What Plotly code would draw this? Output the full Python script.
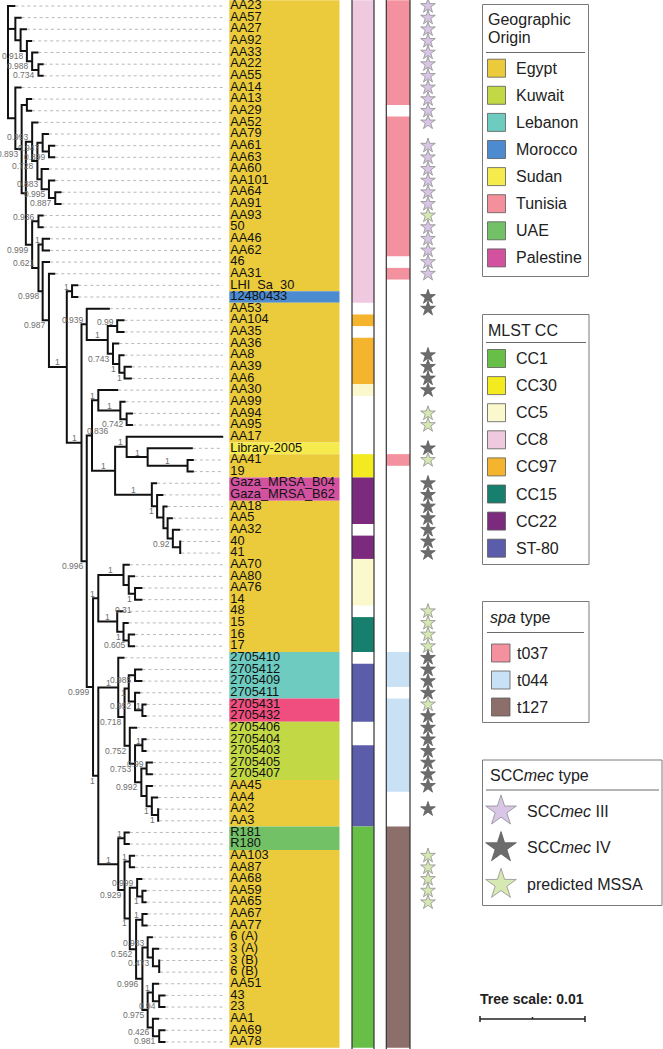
import plotly.graph_objects as go

# ---------------- data ----------------
LEAVES = ["AA23", "AA57", "AA27", "AA92", "AA33", "AA22", "AA55", "AA14", "AA13", "AA29",
          "AA52", "AA79", "AA61", "AA63", "AA60", "AA101", "AA64", "AA91", "AA93", "50",
          "AA46", "AA62", "46", "AA31", "LHI_Sa_30", "12480433", "AA53", "AA104", "AA35", "AA36",
          "AA8", "AA39", "AA6", "AA30", "AA99", "AA94", "AA95", "AA17", "Library-2005", "AA41",
          "19", "Gaza_MRSA_B04", "Gaza_MRSA_B62", "AA18", "AA5", "AA32", "40", "41", "AA70", "AA80",
          "AA76", "14", "48", "15", "16", "17", "2705410", "2705412", "2705409", "2705411",
          "2705431", "2705432", "2705406", "2705404", "2705403", "2705405", "2705407", "AA45", "AA4", "AA2",
          "AA3", "R181", "R180", "AA103", "AA87", "AA68", "AA59", "AA65", "AA67", "AA77",
          "6 (A)", "3 (A)", "3 (B)", "6 (B)", "AA51", "43", "23", "AA1", "AA69", "AA78"]

# geographic origin per leaf (E Egypt, K Kuwait, L Lebanon, M Morocco, S Sudan, T Tunisia, U UAE, P Palestine)
GEO = ("E E E E E E E E E E  E E E E E E E E E E  E E E E E M E E E E  E E E E E E E E S E "
       "E P P E E E E E E E  E E E E E E L L L L  T T K K K K K E E E  E U U E E E E E E E "
       "E E E E E E E E E E").split()
# MLST clonal complex per leaf (- = none)
MLST = ("8 8 8 8 8 8 8 8 8 8  8 8 8 8 8 8 8 8 8 8  8 8 8 8 8 8 - 97 - 97  97 97 97 5 - - - - - 30 "
        "30 22 22 22 22 - 22 22 5 5  5 5 - 15 15 15 - 80 80 80  80 80 - - 80 80 80 80 80 80 "
        "80 1 1 1 1 1 1 1 1 1  1 1 1 1 1 1 1 1 1 1").split()
# spa type per leaf (a t037, b t044, c t127, - none)
SPA = ("a a a a a a a a a -  a a a a a a a a a a  a a - a - - - - - -  - - - - - - - - - a "
       "- - - - - - - - - -  - - - - - - b b b -  b b b b b b b b - -  - c c c c c c c c c "
       "c c c c c c c c c c").split()
# SCCmec type per leaf (3 III, 4 IV, m predicted MSSA, - none)
SCC = ("3 3 3 3 3 3 3 3 3 3  3 - 3 3 3 3 3 3 m 3  3 3 3 3 - 4 4 - - -  4 4 4 4 - m m - 4 m "
       "- 4 4 4 4 4 4 4 - -  - - m m m m 4 4 4 4  m 4 4 4 4 4 4 4 - 4  - - - m m m m m - - "
       "- - - - - - - - - -").split()

GEO_KEYS = ["E", "K", "L", "M", "S", "T", "U", "P"]
GEO_NAMES = ["Egypt", "Kuwait", "Lebanon", "Morocco", "Sudan", "Tunisia", "UAE", "Palestine"]
MLST_KEYS = ["1", "30", "5", "8", "97", "15", "22", "80"]
MLST_NAMES = ["CC1", "CC30", "CC5", "CC8", "CC97", "CC15", "CC22", "ST-80"]
SPA_KEYS = ["a", "b", "c"]
SPA_NAMES = ["t037", "t044", "t127"]
SCC_KEYS = ["3", "4", "m"]
SCC_NAMES = ["SCC<i>mec</i> III", "SCC<i>mec</i> IV", "predicted MSSA"]

# tree: internal node = [depth, support, children...]; leaf = (name, depth)
# depth = distance from root in 1e-4 substitutions/site
CLADE_A = [7, None, ("AA57", 13),
           [12, None, ("AA27", 18),
            [18, "0.918", ("AA92", 23),
             [23, "0.988", ("AA33", 29),
              [29, "0.734", ("AA22", 34), ("AA55", 34)]]]]]

CC97 = [75, "0.939", ("AA53", 97),
        [95, "1",
         [104, "0.99", ("AA104", 111), ("AA35", 111)],
         [100, "0.743", ("AA36", 106),
          [106, "1", ("AA8", 111),
           [111, "1", ("AA39", 118), ("AA6", 118)]]]]]

CC5_B = [86, "1", ("AA30", 105),
         [107, "1", ("AA99", 112),
          [113, "0.742", ("AA94", 119), ("AA95", 119)]]]

CC22_GROUP = [102, "1",
              [113, "1", ("AA17", 205),
               [133, "1", ("Library-2005", 176),
                [171, "1", ("AA41", 177), ("19", 177)]]],
              [137, "1", ("Gaza_MRSA_B04", 142),
               [142, "1", ("Gaza_MRSA_B62", 148),
                [148, None, ("AA18", 152),
                 [152, None, ("AA5", 157),
                  [157, "0.92", ("AA32", 164),
                   [164, None, ("40", 165), ("41", 165)]]]]]]]

CC5_CC15 = [86, "1",
            [110, "1", ("AA70", 116),
             [115, None, ("AA80", 121),
              [121, "1", ("AA76", 128), ("14", 128)]]],
            [104, "1", ("48", 110),
             [110, "1", ("15", 115),
              [115, "0.605", ("16", 121), ("17", 121)]]]]
CC5_NOTE = "0.31"   # support shown beside the AA76/14 pair

ST80 = [105, "1", ("2705410", 111),
        [111, "0.718",
         [115, "1",
          [121, "0.985", ("2705412", 128), ("2705409", 128)],
          [121, "0.952", ("2705411", 126),
           [128, "1", ("2705431", 132), ("2705432", 132)]]],
         [116, "0.752", ("2705406", 123),
          [121, "0.753",
           [128, "1", ("2705404", 132), ("2705403", 132)],
           [127, "0.992",
            [132, "0.99", ("2705405", 138), ("2705407", 138)],
            [132, None, ("AA45", 138),
             [137, "1", ("AA4", 143),
              [143, "1", ("AA2", 144), ("AA3", 144)]]]]]]]]

CC1 = [105, "1",
       [111, "1", ("R181", 116), ("R180", 116)],
       [111, "0.929",
        [116, "1", ("AA103", 121), ("AA87", 121)],
        [116, "1",
         [123, "0.999", ("AA68", 128),
          [128, "1", ("AA59", 132), ("AA65", 132)]],
         [122, "0.562",
          [128, "1", ("AA67", 133), ("AA77", 133)],
          [128, "0.996",
           [133, "0.983", ("6 (A)", 138),
            [138, "0.473", ("3 (A)", 144),
             [144, None, ("3 (B)", 145), ("6 (B)", 145)]]],
           [133, "0.975",
            [138, "1", ("AA51", 144),
             [144, "0.94", ("43", 150), ("23", 150)]],
            [138, "0.426", ("AA1", 144),
             [144, "0.981", ("AA69", 150), ("AA78", 150)]]]]]]]]

CLADE_H = [70, "1", CC97,
           [75, "0.996",
            [80, "0.836", CC5_B, CC22_GROUP],
            [81, "0.999", CC5_CC15,
             [86, "1", ST80, CC1]]]]

LOWER = [39, "0.987", ("AA31", 45),
         [56, "1",
          [61, "1", ("LHI_Sa_30", 67), ("12480433", 67)],
          CLADE_H]]

REST = [7, None, ("AA14", 13),
        [13, "0.893",
         [18, None, ("AA13", 23), ("AA29", 23)],
         [17, None,
          [23, "0.993", ("AA52", 29),
           [28, "0.728",
            [33, "0.947", ("AA79", 39),
             [39, "0.899", ("AA61", 45), ("AA63", 45)]],
            [32, "0.883", ("AA60", 39),
             [39, "0.995", ("AA101", 45),
              [45, "0.887", ("AA64", 51), ("AA91", 51)]]]]],
          [23, "0.999",
           [29, "0.936", ("AA93", 34), ("50", 34)],
           [29, "0.621",
            [33, "1", ("AA46", 40), ("AA62", 40)],
            [33, "0.998", ("46", 40), LOWER]]]]]]

TREE = [0, None, ("AA23", 7), CLADE_A, REST]

SCALE_BAR_UNITS = 100          # 0.01 substitutions/site
SCALE_BAR_LABEL = "Tree scale: 0.01"

# ---------------- layout constants ----------------
W, H = 663, 1049
ROW_TOP_PX, ROW_STEP_PX = 6.0, 11.64
ROOT_PX, PX_PER_UNIT = 8.0, 1.05
DASH_END_PX = 223
LABEL_X0, LABEL_X1 = 229.3, 339.5
MLST_X0, MLST_X1 = 352.0, 374.0
SPA_X0, SPA_X1 = 386.3, 410.0
STAR_X = 428
FONT = "Arial, 'Liberation Sans', sans-serif"
# placement overrides for a few crowded support labels, keyed by (first leaf, last leaf) of the clade
SUP_SIDE = {("AA79", "AA63"): "below", ("AA46", "AA78"): "above",
            ("2705412", "2705409"): "below", ("2705412", "2705432"): "below",
            ("AA30", "41"): "right"}

GEO_LABEL_COL = {"E": "#EBCB3C", "K": "#C3D845", "L": "#6DCBBF", "M": "#4C8BD0",
                 "S": "#F5EB4C", "T": "#EF4E7E", "U": "#73C167", "P": "#D252A0"}
GEO_LEG_COL = dict(GEO_LABEL_COL, T="#F4909B")
MLST_COL = {"1": "#67BF47", "30": "#F3EA20", "5": "#FBF8CD", "8": "#EFC9E0",
            "97": "#F4B42E", "15": "#167F6E", "22": "#7B2A7E", "80": "#5B5DAA"}
SPA_COL = {"a": "#F4919E", "b": "#C9E1F5", "c": "#8C6E6B"}
SCC_FILL = {"3": "#D9C6E6", "4": "#6C6C6C", "m": "#D7E9B3"}
SCC_LINE = {"3": "#8E8E8E", "4": "#5A5A5A", "m": "#8E8E8E"}

# ---------------- tree layout ----------------
leaf_order, tips, nodes = [], [], []
tx, ty = [], []


def lay(node, parent_d, pos):
    if isinstance(node, tuple):
        name, d = node
        r = len(leaf_order)
        leaf_order.append(name)
        tips.append((d, r))
        return d, r
    d, sup = node[0], node[1]
    first_leaf = len(leaf_order)
    kids = node[2:]
    res = []
    for i, k in enumerate(kids):
        p = "upper" if i == 0 else ("lower" if i == len(kids) - 1 else "mid")
        res.append(lay(k, d, p))
    y = (res[0][1] + res[-1][1]) / 2.0
    tx.extend([res[0][0], d, d, res[-1][0], None])
    ty.extend([res[0][1], res[0][1], res[-1][1], res[-1][1], None])
    for cd, cy in res[1:-1]:
        tx.extend([d, cd, None])
        ty.extend([cy, cy, None])
    key = (leaf_order[first_leaf], leaf_order[-1])
    nodes.append((d, y, sup, parent_d, pos, key))
    return d, y


lay(TREE, None, "root")
row_of = {n: i for i, n in enumerate(leaf_order)}

fig = go.Figure()

# dashed leaf guides
dash_end = (DASH_END_PX - ROOT_PX) / PX_PER_UNIT
dx, dy = [], []
for d, r in tips:
    if d < dash_end - 1:
        dx.extend([d, dash_end, None])
        dy.extend([r, r, None])
fig.add_trace(go.Scatter(x=dx, y=dy, mode="lines", xaxis="x", yaxis="y",
                         line=dict(color="#B8B8B8", width=1, dash="3px,3px"),
                         hoverinfo="skip", showlegend=False))
# tree branches
fig.add_trace(go.Scatter(x=tx, y=ty, mode="lines", xaxis="x", yaxis="y",
                         line=dict(color="#111111", width=2),
                         hoverinfo="skip", showlegend=False))

annotations = []
SUP_FS = 8.5
SUP_FONT = dict(family=FONT, size=SUP_FS, color="#6E6E6E")


def sup_label(d, y, sup, pd, pos, key):
    w = SUP_FS * (0.556 * sum(c.isdigit() for c in sup) + 0.278 * sup.count("."))
    side = SUP_SIDE.get(key)
    base = dict(y=y, xref="x", yref="y", text=sup, showarrow=False, yanchor="middle", font=SUP_FONT)
    if side is None and (d - pd) * PX_PER_UNIT >= w + 2:
        annotations.append(dict(base, x=(d + pd) / 2.0, xanchor="center", yshift=4.5))
    elif side == "right":
        annotations.append(dict(base, x=d, xanchor="left", xshift=-7, yshift=4.5))
    else:
        if side is None:
            side = "above" if pos == "upper" else "below"
        annotations.append(dict(base, x=d, xanchor="right", xshift=-1,
                                yshift=(4.5 if side == "above" else -5)))


for d, y, sup, pd, pos, key in nodes:
    if sup is None or pd is None:
        continue
    sup_label(d, y, sup, pd, pos, key)
# extra support value drawn under the AA76 / 14 pair
for d, y, sup, pd, pos, key in nodes:
    if key == ("AA76", "14"):
        annotations.append(dict(x=d, y=row_of["14"], xref="x", yref="y", text=CC5_NOTE,
                                showarrow=False, xanchor="right", yanchor="middle",
                                xshift=-1, yshift=-10, font=SUP_FONT))

# ---------------- strips ----------------
shapes = []


def runs(vals):
    out, start = [], 0
    for i in range(1, len(vals) + 1):
        if i == len(vals) or vals[i] != vals[start]:
            out.append((vals[start], start, i - 1))
            start = i
    return out


rows_in_leaf_order = [row_of.get(n, i) for i, n in enumerate(LEAVES)]

for key, a, b in runs(GEO):
    shapes.append(dict(type="rect", xref="x2", yref="y", layer="below",
                       x0=LABEL_X0, x1=LABEL_X1,
                       y0=rows_in_leaf_order[a] - 0.5, y1=rows_in_leaf_order[b] + 0.5,
                       fillcolor=GEO_LABEL_COL[key], line=dict(width=0)))
for key, a, b in runs(MLST):
    if key == "-":
        continue
    shapes.append(dict(type="rect", xref="x2", yref="y", layer="below",
                       x0=MLST_X0, x1=MLST_X1,
                       y0=rows_in_leaf_order[a] - 0.5, y1=rows_in_leaf_order[b] + 0.5,
                       fillcolor=MLST_COL[key], line=dict(width=0)))
for key, a, b in runs(SPA):
    if key == "-":
        continue
    shapes.append(dict(type="rect", xref="x2", yref="y", layer="below",
                       x0=SPA_X0, x1=SPA_X1,
                       y0=rows_in_leaf_order[a] - 0.5, y1=rows_in_leaf_order[b] + 0.5,
                       fillcolor=SPA_COL[key], line=dict(width=0)))
for xv in (MLST_X0, MLST_X1, SPA_X0, SPA_X1):
    shapes.append(dict(type="line", xref="x2", yref="paper", x0=xv, x1=xv, y0=0, y1=1,
                       line=dict(color="#333333", width=1.2)))

# leaf labels
fig.add_trace(go.Scatter(x=[LABEL_X0 + 1.0] * len(LEAVES), y=rows_in_leaf_order, text=LEAVES,
                         mode="text", textposition="middle right", xaxis="x2", yaxis="y",
                         textfont=dict(family=FONT, size=12.8, color="#111111"),
                         hoverinfo="skip", showlegend=False, cliponaxis=False))

# SCCmec stars
for k in SCC_KEYS:
    ys = [rows_in_leaf_order[i] for i, v in enumerate(SCC) if v == k]
    fig.add_trace(go.Scatter(x=[STAR_X] * len(ys), y=ys, mode="markers", xaxis="x2", yaxis="y",
                             marker=dict(symbol="star", size=11, color=SCC_FILL[k],
                                         line=dict(color=SCC_LINE[k], width=0.8)),
                             hoverinfo="skip", showlegend=False, cliponaxis=False))

# ---------------- legends (pixel coordinates on x2 / y2) ----------------
def box(x0, x1, y0, y1):
    shapes.append(dict(type="rect", xref="x2", yref="y2", x0=x0, x1=x1, y0=y0, y1=y1,
                       fillcolor="rgba(0,0,0,0)", line=dict(color="#7A7A7A", width=1)))


def hline(x0, x1, y):
    shapes.append(dict(type="line", xref="x2", yref="y2", x0=x0, x1=x1, y0=y, y1=y,
                       line=dict(color="#6A6A6A", width=1)))


def text(x, y, s, size=16, bold=False):
    annotations.append(dict(x=x, y=y, xref="x2", yref="y2", text=("<b>%s</b>" % s) if bold else s,
                            showarrow=False, xanchor="left", yanchor="middle", align="left",
                            font=dict(family=FONT, size=size, color="#222222")))


def swatches(x0, x1, y_first, step, names, keys, cols, tx_):
    for i, (n, k) in enumerate(zip(names, keys)):
        yc = y_first + step * i
        shapes.append(dict(type="rect", xref="x2", yref="y2", x0=x0, x1=x1,
                           y0=yc - 9, y1=yc + 9, fillcolor=cols[k],
                           line=dict(color="#5A5A5A", width=0.8)))
        text(tx_, yc, n)


# Geographic origin
box(482.5, 588.5, 4.5, 276.5)
text(486, 19.5, "Geographic")
text(486, 37.5, "Origin")
hline(486, 585, 52.5)
swatches(487.5, 505.5, 68.2, 27.1, GEO_NAMES, GEO_KEYS, GEO_LEG_COL, 514)

# MLST CC
box(482.5, 589, 314.5, 564.5)
text(486, 330, "MLST CC")
hline(486, 586, 342.5)
swatches(487.5, 505.5, 358.5, 27.1, MLST_NAMES, MLST_KEYS, MLST_COL, 514)

# spa type
box(482.5, 589, 601.5, 722.5)
text(488, 617, "<i>spa</i> type")
hline(487, 584, 632.5)
swatches(491.5, 510, 653, 27, SPA_NAMES, SPA_KEYS, SPA_COL, 515)

# SCCmec type
box(482.5, 662, 760, 905.5)
text(488, 775, "SCC<i>mec</i> type")
hline(486, 659, 790)
for i, k in enumerate(SCC_KEYS):
    yc = 811 + 36.7 * i
    fig.add_trace(go.Scatter(x=[501], y=[yc], mode="markers", xaxis="x2", yaxis="y2",
                             marker=dict(symbol="star", size=23, color=SCC_FILL[k],
                                         line=dict(color=SCC_LINE[k], width=0.8)),
                             hoverinfo="skip", showlegend=False, cliponaxis=False))
    text(525, yc, SCC_NAMES[i])

# tree scale bar
text(478, 999, SCALE_BAR_LABEL, size=14, bold=True)
sb0 = (480 - ROOT_PX) / PX_PER_UNIT
sb1 = sb0 + SCALE_BAR_UNITS
sbm = (sb0 + sb1) / 2.0
fig.add_trace(go.Scatter(x=[sb0, sb1, None, sb0, sb0, None, sb1, sb1, None, sbm, sbm],
                         y=[1019, 1019, None, 1016, 1022, None, 1016, 1022, None, 1017, 1019],
                         mode="lines", xaxis="x", yaxis="y2",
                         line=dict(color="#222222", width=1.5),
                         hoverinfo="skip", showlegend=False, cliponaxis=False))

ax_hidden = dict(visible=False, showgrid=False, zeroline=False, fixedrange=True)
fig.update_layout(
    width=W, height=H, margin=dict(l=0, r=0, t=0, b=0),
    paper_bgcolor="white", plot_bgcolor="white", showlegend=False,
    xaxis=dict(domain=[0, 1], range=[-ROOT_PX / PX_PER_UNIT, (W - ROOT_PX) / PX_PER_UNIT], **ax_hidden),
    yaxis=dict(domain=[0, 1], range=[(H - ROW_TOP_PX) / ROW_STEP_PX, -ROW_TOP_PX / ROW_STEP_PX], **ax_hidden),
    xaxis2=dict(overlaying="x", range=[0, W], **ax_hidden),
    yaxis2=dict(overlaying="y", range=[H, 0], **ax_hidden),
    shapes=shapes, annotations=annotations,
)

fig.write_html("out.html", config={"displayModeBar": False},
               post_script="document.body.style.margin='0px';document.body.style.padding='0px';")
